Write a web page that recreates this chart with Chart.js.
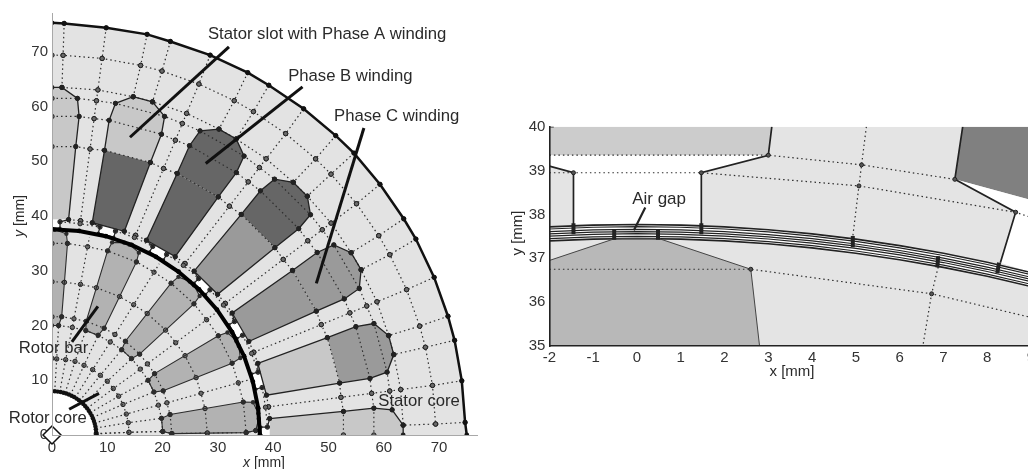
<!DOCTYPE html>
<html lang="en">
<head>
  <meta charset="UTF-8" />
  <title>Motor mesh</title>
  <script src="https://cdn.jsdelivr.net/npm/chart.js@4.4.1/dist/chart.umd.min.js"></script>
  <style>
    html, body {margin: 0; padding: 0; background: #fff; overflow: hidden; width: 1028px; height: 469px;}
    canvas {position: absolute; top: 0; filter: blur(0.4px);}
    #meshChart {left: 0;}
    #gapChart {left: 500px;}
  </style>
</head>
<body>
  <canvas id="meshChart" width="520" height="469"></canvas>
  <canvas id="gapChart" width="560" height="469"></canvas>

  <script>
    /* ---- left plot: quarter machine, all values in mm ---- */
    const meshXTicks = [0, 10, 20, 30, 40, 50, 60, 70];
    const meshYTicks = [0, 10, 20, 30, 40, 50, 60, 70];

    const outerArc = [[0,75.3],[2.2,75.2],[9.8,74.4],[17.2,73.2],[21.4,71.9],[28.6,69.4],[35.4,66.2],[39.2,63.9],[45.5,59.6],[51.3,54.7],[54.6,51.5],[59.3,45.8],[63.6,39.5],[65.8,35.8],[69.1,28.8],[71.6,21.7],[72.8,17.3],[74.1,9.9],[74.7,2.3],[75,0]];
    const coreArc = [[0,8],[.52,7.98],[1.04,7.93],[1.56,7.85],[2.07,7.73],[2.57,7.58],[3.06,7.39],[3.54,7.18],[4,6.93],[4.44,6.65],[4.87,6.35],[5.27,6.02],[5.66,5.66],[6.02,5.27],[6.35,4.87],[6.65,4.44],[6.93,4],[7.18,3.54],[7.39,3.06],[7.58,2.57],[7.73,2.07],[7.85,1.56],[7.93,1.04],[7.98,.52],[8,0]];
    const gapRing = [[0,37.6],[4.91,37.28],[9.73,36.32],[14.39,34.74],[18.8,32.56],[22.89,29.83],[26.59,26.59],[29.83,22.89],[32.56,18.8],[34.74,14.39],[36.32,9.73],[37.28,4.91],[37.6,0]];

    // stator slots, outer part then inner part
    const slot90 = [[0,63.5],[1.8,63.5],[4.6,61.5],[4.9,58.2],[4.3,52.7],[3,39.35],[0,39.35]];
    const slot75Top = [[9.49,52.01],[10.33,57.49],[11.48,60.59],[14.69,61.8],[18.17,60.87],[20.36,58.21],[19.79,54.95],[17.79,49.79]];
    const slot75Bottom = [[17.79,49.79],[13.08,37.22],[7.28,38.78],[9.49,52.01]];
    const slot60Top = [[22.63,47.79],[24.86,52.85],[26.77,55.56],[30.19,55.89],[33.31,54.09],[34.73,50.96],[33.34,47.95],[30.07,43.49]];
    const slot60Bottom = [[30.07,43.49],[22.28,32.58],[17.08,35.58],[22.63,47.79]];
    const slot45Top = [[34.22,40.3],[37.69,44.61],[40.24,46.74],[43.63,46.17],[46.17,43.63],[46.74,40.24],[44.61,37.69],[40.3,34.22]];
    const slot45Bottom = [[40.3,34.22],[29.94,25.7],[25.7,29.94],[34.22,40.3]];
    const slot30Top = [[43.49,30.07],[47.95,33.34],[50.96,34.73],[54.09,33.31],[55.89,30.19],[55.56,26.77],[52.85,24.86],[47.79,22.63]];
    const slot30Bottom = [[47.79,22.63],[35.58,17.08],[32.58,22.28],[43.49,30.07]];
    const slot15Top = [[49.79,17.79],[54.95,19.79],[58.21,20.36],[60.87,18.17],[61.8,14.69],[60.59,11.48],[57.49,10.33],[52.01,9.49]];
    const slot15Bottom = [[52.01,9.49],[38.78,7.28],[37.22,13.08],[49.79,17.79]];
    const slot0 = [[63.5,0],[63.5,1.8],[61.5,4.6],[58.2,4.9],[52.7,4.3],[39.35,3],[39.35,0]];

    // white slot openings towards the air gap
    const opening90 = [[3,39.35],[1.45,38.95],[1.45,37.8],[0,37.8],[0,39.35]];
    const opening75 = [[7.28,38.78],[8.68,38],[8.38,36.89],[11.18,36.14],[11.48,37.25],[13.08,37.22]];
    const opening60 = [[17.08,35.58],[18.22,34.46],[17.64,33.46],[20.16,32.01],[20.73,33],[22.28,32.58]];
    const opening45 = [[25.7,29.94],[26.52,28.57],[25.7,27.75],[27.75,25.7],[28.57,26.52],[29.94,25.7]];
    const opening30 = [[32.58,22.28],[33,20.73],[32.01,20.16],[33.46,17.64],[34.46,18.22],[35.58,17.08]];
    const opening15 = [[37.22,13.08],[37.25,11.48],[36.14,11.18],[36.89,8.38],[38,8.68],[38.78,7.28]];
    const opening0 = [[39.35,3],[38.95,1.45],[37.8,1.45],[37.8,0],[39.35,0]];

    // rotor bars
    const bar90 = [[0,37.5],[.5,37.5],[2.6,36.75],[2.8,35],[1.75,21.6],[1.2,20],[0,20]];
    const bar69 = [[13.09,35.14],[14.03,34.78],[15.71,33.32],[15.27,31.62],[9.44,19.51],[8.35,18.22],[6.11,19.08],[6.18,20.77],[10.05,33.64],[10.87,35.2],[13.09,35.14]];
    const bar48 = [[24.92,28.03],[25.66,27.35],[26.7,25.39],[25.67,23.96],[15.85,14.77],[14.38,13.96],[12.6,15.58],[13.27,17.13],[21.53,27.74],[22.86,28.89],[24.92,28.03]];
    const bar26 = [[33.34,17.18],[33.78,16.28],[34.05,14.07],[32.57,13.11],[20.11,8.07],[18.43,7.85],[17.37,9.99],[18.55,11.21],[30.07,18.13],[31.73,18.73],[33.34,17.18]];
    const bar5 = [[37.29,3.97],[37.39,2.97],[36.83,.81],[35.11,.44],[21.67,.26],[20.02,.65],[19.8,3.05],[21.35,3.74],[34.59,6.02],[36.35,5.99],[37.29,3.97]];

    // dotted mesh in the stator
    const ring69 = [[0,69.4],[2,69.37],[9.06,68.8],[16.03,67.52],[19.89,66.49],[26.56,64.12],[32.95,61.08],[36.42,59.08],[42.25,55.06],[47.66,50.45],[50.45,47.66],[55.06,42.25],[59.08,36.42],[61.08,32.95],[64.12,26.56],[66.49,19.89],[67.52,16.03],[68.8,9.06],[69.37,2]];
    const ringA = [[1.8,63.5],[8.3,63.05],[14.69,61.8],[18.17,60.87],[24.34,58.76],[30.19,55.89],[33.31,54.09],[38.72,50.46],[43.63,46.17],[46.17,43.63],[50.46,38.72],[54.09,33.31],[55.89,30.19],[58.76,24.34],[60.87,18.17],[61.8,14.69],[63.05,8.3],[63.5,1.8]];
    const ringB = [[0,61.5],[4.6,61.5],[8.04,61.07],[11.48,60.59],[20.36,58.21],[23.57,56.91],[26.77,55.56],[34.73,50.96],[37.5,48.87],[40.24,46.74],[46.74,40.24],[48.87,37.5],[50.96,34.73],[55.56,26.77],[56.91,23.57],[58.21,20.36],[60.59,11.48],[61.07,8.04],[61.5,4.6]];
    const ringC = [[0,58.2],[4.9,58.2],[7.61,57.8],[10.33,57.49],[19.79,54.95],[22.31,53.86],[24.86,52.85],[33.34,47.95],[35.49,46.25],[37.69,44.61],[44.61,37.69],[46.25,35.49],[47.95,33.34],[52.85,24.86],[53.86,22.31],[54.95,19.79],[57.49,10.33],[57.8,7.61],[58.2,4.9],[58.2,0]];
    const ringD = [[0,52.7],[4.3,52.7],[6.88,52.25],[9.49,52.01],[17.79,49.79],[20.17,48.69],[22.63,47.79],[30.07,43.49],[32.08,41.81],[34.22,40.3],[40.3,34.22],[41.81,32.08],[43.49,30.07],[47.79,22.63],[48.69,20.17],[49.79,17.79],[52.01,9.49],[52.25,6.88],[52.7,4.3],[52.7,0]];
    const tooth82 = [[9.8,74.4],[9.06,68.8],[8.3,63.05],[8.04,61.07],[7.61,57.8],[6.88,52.25],[5.15,39.16]];
    const tooth67 = [[28.6,69.4],[26.56,64.12],[24.34,58.76],[23.57,56.91],[22.31,53.86],[20.17,48.69],[15.12,36.49]];
    const tooth52 = [[45.5,59.6],[42.25,55.06],[38.72,50.46],[37.5,48.87],[35.49,46.25],[32.08,41.81],[24.05,31.34]];
    const tooth37 = [[59.3,45.8],[55.06,42.25],[50.46,38.72],[48.87,37.5],[46.25,35.49],[41.81,32.08],[31.34,24.05]];
    const tooth22 = [[69.1,28.8],[64.12,26.56],[58.76,24.34],[56.91,23.57],[53.86,22.31],[48.69,20.17],[36.49,15.12]];
    const tooth7 = [[74.1,9.9],[68.8,9.06],[63.05,8.3],[61.07,8.04],[57.8,7.61],[52.25,6.88],[39.16,5.15]];
    const slotSpokes = [
      [[2.2,75.2],[2,69.37],[1.8,63.5]], [[17.2,73.2],[16.03,67.52],[14.69,61.8]], [[21.4,71.9],[19.89,66.49],[18.17,60.87]],
      [[35.4,66.2],[32.95,61.08],[30.19,55.89]], [[39.2,63.9],[36.42,59.08],[33.31,54.09]], [[51.3,54.7],[47.66,50.45],[43.63,46.17]],
      [[54.6,51.5],[50.45,47.66],[46.17,43.63]], [[63.6,39.5],[59.08,36.42],[54.09,33.31]], [[65.8,35.8],[61.08,32.95],[55.89,30.19]],
      [[71.6,21.7],[66.49,19.89],[60.87,18.17]], [[72.8,17.3],[67.52,16.03],[61.8,14.69]], [[74.7,2.3],[69.37,2],[63.5,1.8]]
    ];
    const toothTips = [
      [[3,39.35],[5.15,39.16],[7.28,38.78]], [[13.08,37.22],[15.12,36.49],[17.08,35.58]], [[22.28,32.58],[24.05,31.34],[25.7,29.94]],
      [[29.94,25.7],[31.34,24.05],[32.58,22.28]], [[35.58,17.08],[36.49,15.12],[37.22,13.08]], [[38.78,7.28],[39.16,5.15],[39.35,3]],
      [[1.45,38.95],[5.08,38.61],[8.68,38]], [[11.48,37.25],[14.9,36.1],[18.22,34.46]], [[20.73,33],[23.75,31],[26.52,28.57]],
      [[28.57,26.52],[31,23.75],[33,20.73]], [[34.46,18.22],[36.1,14.9],[37.25,11.48]], [[38,8.68],[38.61,5.08],[38.95,1.45]]
    ];

    // dotted mesh in the rotor
    const rotorRing14 = [[0,14],[.85,13.9],[2.47,13.76],[4.16,13.45],[5.79,12.73],[7.35,11.94],[8.74,10.91],[10,9.82],[11.09,8.49],[12.05,7.09],[12.84,5.58],[13.44,3.82],[13.8,2.24],[13.92,.49]];
    const rotorRing20 = [[1.2,20],[3.68,19.66],[6.11,19.08],[8.35,18.22],[10.54,17],[12.6,15.58],[14.38,13.96],[15.97,12.04],[17.37,9.99],[18.43,7.85],[19.24,5.45],[19.8,3.05],[20.02,.65]];
    const rotorRing22 = [[0,21.6],[1.75,21.6],[3.97,21.23],[6.18,20.77],[9.44,19.51],[11.38,18.36],[13.27,17.13],[15.85,14.77],[17.25,13],[18.55,11.21],[20.11,8.07],[20.78,5.88],[21.35,3.74],[21.67,.26]];
    const rotorRing28 = [[0,28],[2.25,27.9],[5.15,27.52],[8.02,26.91],[12.22,25.29],[14.76,23.8],[17.22,22.2],[20.54,19.16],[22.36,16.85],[24.06,14.5],[26.06,10.48],[26.94,7.62],[27.67,4.83],[28.09,.35]];
    const rotorRing35 = [[0,35],[2.8,35],[6.44,34.4],[10.05,33.64],[15.27,31.62],[18.45,29.75],[21.53,27.74],[25.67,23.96],[27.95,21.06],[30.07,18.13],[32.57,13.11],[33.68,9.53],[34.59,6.02],[35.11,.44]];
    const rotorSpokes = [
      [[.49,7.94],[.85,13.9],[1.2,20]], [[1.41,7.86],[2.47,13.76],[3.68,19.66],[3.97,21.23],[5.15,27.52],[6.44,34.4],[6.77,36.17]],
      [[2.38,7.69],[4.16,13.45],[6.11,19.08]], [[3.31,7.27],[5.79,12.73],[8.35,18.22]],
      [[4.2,6.82],[7.35,11.94],[10.54,17],[11.38,18.36],[14.76,23.8],[18.45,29.75],[19.39,31.28]],
      [[4.99,6.23],[8.74,10.91],[12.6,15.58]], [[5.71,5.61],[10,9.82],[14.38,13.96]],
      [[6.34,4.85],[11.09,8.49],[15.97,12.04],[17.25,13],[22.36,16.85],[27.95,21.06],[29.39,22.15]],
      [[6.89,4.05],[12.05,7.09],[17.37,9.99]], [[7.34,3.19],[12.84,5.58],[18.43,7.85]],
      [[7.68,2.18],[13.44,3.82],[19.24,5.45],[20.78,5.88],[26.94,7.62],[33.68,9.53],[35.41,10.02]],
      [[7.89,1.28],[13.8,2.24],[19.8,3.05]], [[7.95,.28],[13.92,.49],[20.02,.65]]
    ];
    const bottomRow = [[8,.2],[13.92,.49],[20.02,.65],[21.67,.26],[28.09,.35],[35.11,.44],[36.83,.81]];

    // callout leaders
    const leaderPhaseA = [[32,70.9],[14.1,54.4]];
    const leaderPhaseB = [[45.3,63.6],[27.8,49.6]];
    const leaderPhaseC = [[56.4,56.1],[47.8,27.7]];
    const leaderRotorBar = [[8.3,23.5],[3.6,17]];
    const leaderRotorCore = [[8.5,7.6],[3.1,4.7]];

    /* ---- right plot: air gap detail, mm ---- */
    const gapXTicks = [-2, -1, 0, 1, 2, 3, 4, 5, 6, 7, 8, 9];
    const gapYTicks = [35, 36, 37, 38, 39, 40];

    const gapX = [-2, -1, 0, 1, 2, 3, 4, 5, 6, 7, 8, 9];
    const gapLine1 = [37.717,37.757,37.770,37.757,37.717,37.650,37.557,37.436,37.288,37.113,36.909,36.677];
    const gapLine2 = [37.667,37.707,37.720,37.707,37.667,37.600,37.507,37.386,37.238,37.063,36.859,36.627];
    const gapLine3 = [37.607,37.647,37.660,37.647,37.607,37.540,37.447,37.326,37.178,37.003,36.799,36.567];
    const gapLine4 = [37.557,37.597,37.610,37.597,37.557,37.490,37.397,37.276,37.128,36.953,36.749,36.517];
    const gapLine5 = [37.507,37.547,37.560,37.547,37.507,37.440,37.347,37.226,37.078,36.903,36.699,36.467];
    const gapLine6 = [37.447,37.487,37.500,37.487,37.447,37.380,37.287,37.166,37.018,36.843,36.639,36.407];
    const gapLine7 = [37.397,37.437,37.450,37.437,37.397,37.330,37.237,37.116,36.968,36.793,36.589,36.357];

    const detailBack = [[-2,35],[9,35],[9,40],[-2,40]];
    const detailSlotA = [[-2,40],[3.08,40],[3,39.35],[-2,39.35]];
    const detailSlotB = [[7.26,38.8],[7.44,40],[9,40],[9,38.33]];
    const detailBar = [[-2,35],[2.8,35],[2.6,36.75],[.5,37.45],[-.5,37.45],[-2,36.95]];
    const detailOpenA = [[-2,39.35],[3,39.35],[1.47,38.95],[1.47,37.78],[-1.45,37.78],[-1.45,38.95],[-2,39.1]];
    const detailOpenB = [[7.26,38.8],[9,38.33],[9,36.68],[8.3,36.9],[8.65,38.05]];
    const detailToothA = [[-2,39.1],[-1.45,38.95],[-1.45,37.78]];
    const detailToothB = [[1.47,37.78],[1.47,38.95],[3,39.35],[3.08,40]];
    const detailToothC = [[7.44,40],[7.26,38.8],[8.65,38.05],[8.3,36.9]];
    const detailBarEdge = [[-2,36.95],[-.5,37.45],[.5,37.45],[2.6,36.75],[2.8,35]];
    const detailMesh = [
      [[-2,39.35],[3,39.35],[5.13,39.13],[7.26,38.8]],
      [[-2,38.95],[-1.45,38.95],[1.47,38.95],[5.07,38.65],[8.65,38.05],[9,37.93]],
      [[-2,36.75],[2.6,36.75],[6.73,36.19],[9,35.65]],
      [[5.24,40],[5.13,39.13],[5.07,38.65],[4.93,37.5]],
      [[6.88,36.8],[6.73,36.19],[6.53,35]]
    ];
    const detailNodes = [[5.13,39.13],[5.07,38.65],[6.73,36.19],[3,39.35],[1.47,38.95],[-1.45,38.95],[2.6,36.75],[7.26,38.8],[8.65,38.05]];
    const detailStacks = [
      [[-1.45,37.8],[-1.45,37.55]], [[-.52,37.67],[-.52,37.42]], [[.48,37.67],[.48,37.42]], [[1.47,37.8],[1.47,37.55]],
      [[4.93,37.51],[4.93,37.25]], [[6.88,37.05],[6.86,36.79]], [[8.27,36.9],[8.23,36.66]]
    ];
    const leaderAirGap = [[.19,38.16],[-.07,37.64]];
    const cornerTick = [[-2,40],[-1.9,40]];

    const lightGrey = "#c8c8c8", midGrey = "#9a9a9a", darkGrey = "#666666", barGrey = "#b2b2b2", ironGrey = "#e3e3e3";
    const sansFamily = "'Liberation Sans', Arial, sans-serif";
    const pts = a => a.map(p => ({x: p[0], y: p[1]}));
    const zipY = ys => gapX.map((x, i) => [x, ys[i]]);

    function shape(data, color) {
      return {type: "scatter", data: pts(data), showLine: true, fill: "shape", backgroundColor: color, borderWidth: 0, pointRadius: 0, tension: 0};
    }
    function stroke(data, color, width, radius, dash) {
      return {type: "scatter", data: pts(data), showLine: true, fill: false, borderColor: color, borderWidth: width, borderDash: dash || [],
        pointRadius: radius || 0, pointBackgroundColor: color, pointBorderColor: color, pointBorderWidth: 0, tension: 0};
    }
    // dotted mesh line with small ringed nodes
    function mesh(data, radius) {
      return {type: "scatter", data: pts(data), showLine: true, fill: false, borderColor: "#2e2e2e", borderWidth: 1.2, borderDash: [1.5, 3],
        pointRadius: radius === undefined ? 2.2 : radius, pointBackgroundColor: "#6a6a6a", pointBorderColor: "#222", pointBorderWidth: 1, tension: 0};
    }

    // text is placed in data units, title pieces in canvas pixels
    const textPlugin = (labels, titles, labelSize) => ({
      id: "textPlugin",
      afterDraw(chart) {
        const ctx = chart.ctx, sx = chart.scales.x, sy = chart.scales.y;
        ctx.save();
        ctx.fillStyle = "#2a2a2a";
        ctx.textBaseline = "middle";
        ctx.font = labelSize + "px " + sansFamily;
        labels.forEach(l => ctx.fillText(l[0], sx.getPixelForValue(l[1]), sy.getPixelForValue(l[2])));
        titles.forEach(t => {
          const italic = (t.italic ? "italic " : "") + t.size + "px " + sansFamily;
          const upright = t.size + "px " + sansFamily;
          ctx.save();
          ctx.translate(t.x, t.y);
          if (t.rotate) ctx.rotate(-Math.PI / 2);
          ctx.font = italic;
          const w1 = ctx.measureText(t.var).width;
          ctx.font = upright;
          const w2 = ctx.measureText(" [mm]").width;
          ctx.font = italic;
          ctx.fillText(t.var, -(w1 + w2) / 2, 0);
          ctx.font = upright;
          ctx.fillText(" [mm]", -(w1 + w2) / 2 + w1, 0);
          ctx.restore();
        });
        ctx.restore();
      }
    });

    function axes(xTicks, yTicks, xMin, xMax, yMin, yMax, cfg) {
      const tickFont = {family: sansFamily, size: 15};
      return {
        x: {type: "linear", min: xMin, max: xMax, grid: {display: false, drawTicks: false},
          border: {color: cfg.border, width: cfg.borderWidth, z: 1},
          ticks: {color: "#333", font: tickFont, padding: cfg.xPad, maxRotation: 0, autoSkip: false},
          afterBuildTicks: s => { s.ticks = xTicks.map(v => ({value: v})); },
          afterFit: s => { s.height = cfg.xHeight; }},
        y: {type: "linear", min: yMin, max: yMax, grid: {display: false, drawTicks: false},
          border: {color: cfg.border, width: cfg.borderWidth, z: 1},
          ticks: {color: "#333", font: tickFont, padding: cfg.yPad, autoSkip: false},
          afterBuildTicks: s => { s.ticks = yTicks.map(v => ({value: v})); },
          afterFit: s => { s.width = cfg.yWidth; }}
      };
    }

    function draw(id, datasets, scales, padding, plugin) {
      // chart.js paints the first dataset last, so flip to keep painter order
      new Chart(document.getElementById(id), {
        type: "scatter",
        data: {datasets: datasets.slice().reverse()},
        options: {
          responsive: false, animation: false, devicePixelRatio: 1, events: [],
          layout: {padding: padding},
          plugins: {legend: {display: false}, tooltip: {enabled: false}},
          scales: scales
        },
        plugins: [plugin]
      });
    }

    /* left chart */
    const slotShapes = [
      shape(slot90, lightGrey), shape(slot75Top, lightGrey), shape(slot75Bottom, darkGrey),
      shape(slot60Top, darkGrey), shape(slot60Bottom, darkGrey), shape(slot45Top, darkGrey), shape(slot45Bottom, midGrey),
      shape(slot30Top, midGrey), shape(slot30Bottom, midGrey), shape(slot15Top, midGrey), shape(slot15Bottom, lightGrey), shape(slot0, lightGrey)
    ];
    const barLists = [bar90, bar69, bar48, bar26, bar5];
    const openingLists = [opening90, opening75, opening60, opening45, opening30, opening15, opening0];
    const slotOutlines = [
      slot90.slice(0, 6), slot0.slice(0, 6),
      slot75Top.concat(slot75Bottom), slot60Top.concat(slot60Bottom), slot45Top.concat(slot45Bottom),
      slot30Top.concat(slot30Bottom), slot15Top.concat(slot15Bottom)
    ];

    const meshDatasets = [
      shape(outerArc.concat([[0,0]]), ironGrey),
      ...slotShapes,
      ...barLists.map(b => shape(b, barGrey)),
      ...openingLists.map(o => shape(o, "#ffffff")),
      shape(coreArc.concat([[0,0]]), "#ffffff"),
      ...[ring69, ringA, ringB, ringC, ringD, tooth82, tooth67, tooth52, tooth37, tooth22, tooth7].map(m => mesh(m)),
      ...slotSpokes.map(m => mesh(m)), ...toothTips.map(m => mesh(m)),
      ...[rotorRing14, rotorRing20, rotorRing22, rotorRing28, rotorRing35, bottomRow].map(m => mesh(m)),
      ...rotorSpokes.map(m => mesh(m, 0)),
      ...slotOutlines.map(o => stroke(o, "#222", 1.3, 2.4)),
      ...barLists.map(b => stroke(b.slice(1), "#2c2c2c", 1.1, 2.2)),
      ...openingLists.map(o => stroke(o.slice(0, o.length - 1), "#222", 1.2, 1.6)),
      stroke(outerArc, "#111", 2.5, 2.4),
      stroke(coreArc, "#111", 2.4, 2.2),
      stroke(gapRing, "#000", 4, 2.4),
      ...[leaderPhaseA, leaderPhaseB, leaderPhaseC, leaderRotorBar, leaderRotorCore].map(l => stroke(l, "#111", 3)),
      {type: "scatter", data: pts([[0,0]]), clip: false, pointStyle: "rectRot", pointRadius: 9, pointBackgroundColor: "#fff", pointBorderColor: "#111", pointBorderWidth: 1.5}
    ];

    draw("meshChart", meshDatasets,
      axes(meshXTicks, meshYTicks, 0, 76.85, 0, 77.1, {border: "#a8a8a8", borderWidth: 1, xPad: 4, yPad: 4, xHeight: 34, yWidth: 52}),
      {left: 0, right: 43, top: 11, bottom: 0},
      textPlugin([
        ["Stator slot with Phase A winding", 28.2, 73.1],
        ["Phase B winding", 42.7, 65.6],
        ["Phase C winding", 51, 58.2],
        ["Rotor bar", -6, 15.8],
        ["Rotor core", -7.8, 3.1],
        ["Stator core", 59, 6.2]
      ], [
        {var: "x", x: 264, y: 463, italic: true, size: 14},
        {var: "y", x: 20, y: 216, italic: true, rotate: true, size: 14}
      ], 16.7));

    /* right chart */
    const gapLines = [gapLine1, gapLine2, gapLine3, gapLine4, gapLine5, gapLine6, gapLine7];
    const gapBand = zipY(gapLine1).concat(zipY(gapLine7).reverse());

    const gapDatasets = [
      shape(detailBack, "#e4e4e4"),
      shape(detailBar, "#b8b8b8"),
      shape(detailSlotA, "#cccccc"),
      shape(detailSlotB, "#808080"),
      shape(detailOpenA, "#ffffff"),
      shape(detailOpenB, "#ffffff"),
      shape(gapBand, "#ffffff"),
      ...detailMesh.map(m => mesh(m, 0)),
      ...gapLines.map((l, i) => stroke(zipY(l), "#222", (i === 0 || i === 6) ? 1.6 : 1.2)),
      stroke(detailToothA, "#222", 1.7),
      stroke(detailToothB, "#222", 1.7),
      stroke(detailToothC, "#222", 1.7),
      stroke(detailBarEdge, "#444", 1),
      ...detailStacks.map(s => stroke(s, "#222", 4)),
      {type: "scatter", data: pts(detailNodes), pointRadius: 2, pointBackgroundColor: "#555", pointBorderColor: "#222", pointBorderWidth: 1},
      stroke(leaderAirGap, "#222", 2.2),
      stroke(cornerTick, "#222", 1.5)
    ];

    draw("gapChart", gapDatasets,
      axes(gapXTicks, gapYTicks, -2, 9, 35, 40, {border: "#222", borderWidth: 1.6, xPad: 3, yPad: 4, xHeight: 123, yWidth: 49.4}),
      {left: 0, right: 29, top: 126.7, bottom: 0},
      textPlugin([["Air gap", -.11, 38.35]], [
        {var: "x", x: 292, y: 372, italic: false, size: 15},
        {var: "y", x: 18, y: 233, italic: false, rotate: true, size: 15}
      ], 17));
  </script>
</body>
</html>
